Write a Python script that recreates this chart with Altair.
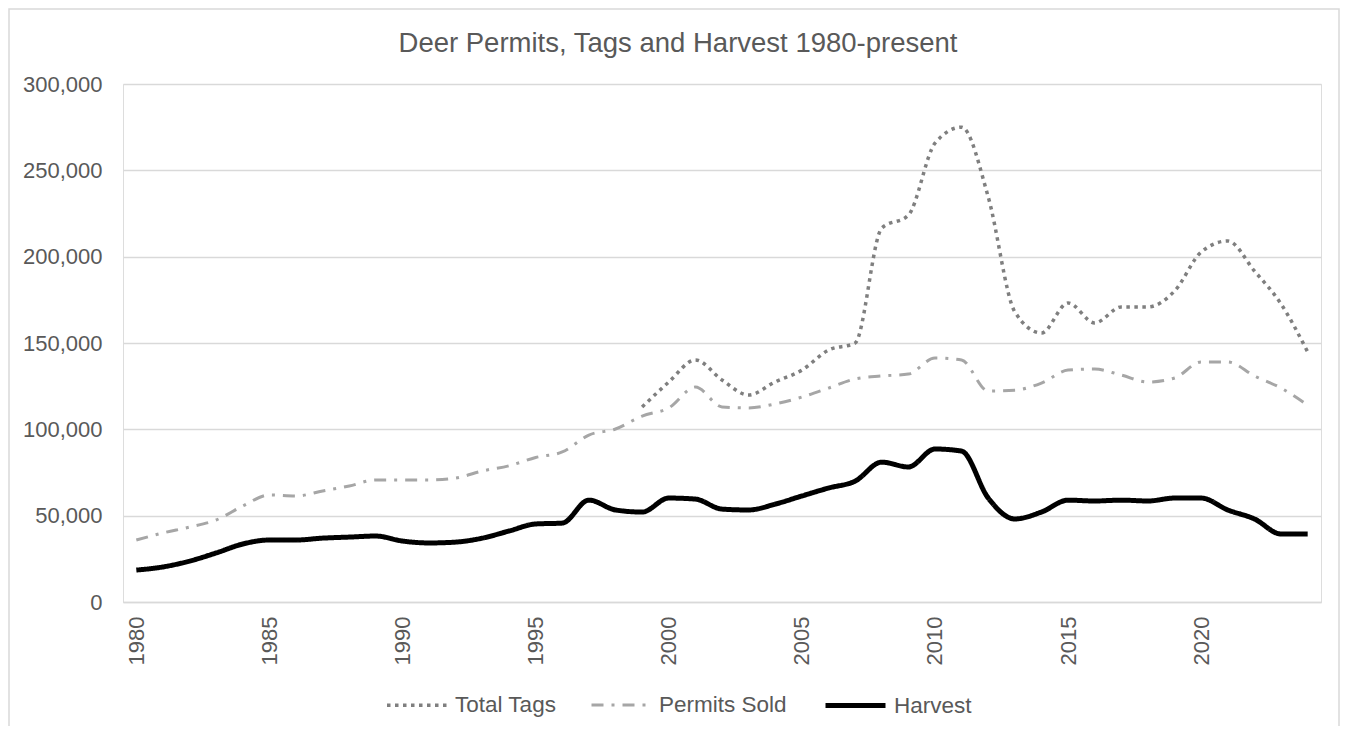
import altair as alt
import pandas as pd

years = list(range(1980, 2025))
harvest = [18500, 20300, 23700, 28400, 33600, 35900, 35900, 37000, 37600, 38200,
           35300, 34200, 34700, 37000, 41100, 45200, 45700, 59000, 53300, 52100,
           60200, 59600, 53800, 53300, 56700, 61400, 66000, 70000, 81000, 78200,
           88600, 87400, 60200, 48100, 52100, 59000, 58500, 59000, 58500, 60200,
           60200, 53300, 48100, 39400, 39400]
permits = [35900, 40000, 43400, 47500, 55600, 62000, 61400, 64300, 67200, 70700,
           70700, 70700, 71800, 75900, 78900, 83700, 86900, 96700, 100200, 107700,
           112400, 124500, 113000, 112400, 114700, 118700, 123900, 129200, 130900, 132000,
           141300, 140100, 122200, 122700, 126800, 134300, 134900, 131400, 127400, 129700,
           139000, 139000, 130900, 123900, 114000]
tag_years = list(range(1999, 2025))
tags = [112900, 127400, 140200, 128600, 119900, 127500, 134300, 145900, 150000, 216500,
        224000, 265700, 275000, 234600, 168000, 155800, 173200, 161600, 170900, 170900,
        180100, 202700, 209100, 191700, 172600, 144800]

series_names = ["Total Tags", "Permits Sold", "Harvest"]
x_ticks = [1980, 1985, 1990, 1995, 2000, 2005, 2010, 2015, 2020]
y_ticks = [0, 50000, 100000, 150000, 200000, 250000, 300000]
title_text = ["Deer Permits, Tags and Harvest 1980-present"]

rows = []
for y, v in zip(tag_years, tags):
    rows.append({"year": y, "series": "Total Tags", "value": v})
for y, v in zip(years, permits):
    rows.append({"year": y, "series": "Permits Sold", "value": v})
for y, v in zip(years, harvest):
    rows.append({"year": y, "series": "Harvest", "value": v})
df = pd.DataFrame(rows)

FONT = "Liberation Sans"
TXT = "#595959"
W, H = 1198, 518

legend_kw = dict(
    title=None, orient="none", legendX=262, legendY=589, direction="horizontal",
    symbolType="stroke", symbolSize=3600, labelFont=FONT, labelFontSize=22.5,
    labelColor=TXT, labelOffset=6, columnPadding=28,
)

lines = alt.Chart(df).mark_line(interpolate="monotone", strokeCap="butt").encode(
    x=alt.X("year:Q", scale=alt.Scale(domain=[1979.5, 2024.5], nice=False, zero=False),
            axis=alt.Axis(values=x_ticks, labelAngle=-90, format="d", title=None,
                          ticks=False, grid=False, domainColor="#d9d9d9", domainWidth=1.5,
                          labelFont=FONT, labelFontSize=22, labelColor=TXT,
                          labelPadding=14)),
    y=alt.Y("value:Q", scale=alt.Scale(domain=[0, 300000], nice=False),
            axis=alt.Axis(values=y_ticks, format=",d", title=None, ticks=False,
                          domain=False, gridColor="#d9d9d9", gridWidth=1.5,
                          labelFont=FONT, labelFontSize=22, labelColor=TXT,
                          labelPadding=21)),
    color=alt.Color("series:N", scale=alt.Scale(domain=series_names,
                    range=["#7f7f7f", "#a6a6a6", "#000000"]),
                    legend=alt.Legend(**legend_kw)),
    strokeDash=alt.StrokeDash("series:N", scale=alt.Scale(domain=series_names,
                    range=[[3.5, 4.5], [12, 8, 3, 8], [1, 0]]),
                    legend=alt.Legend(**legend_kw)),
    strokeWidth=alt.StrokeWidth("series:N", scale=alt.Scale(type="ordinal", domain=series_names,
                    range=[3.5, 3, 5]),
                    legend=alt.Legend(**legend_kw)),
    order=alt.Order("year:Q"),
)

border_df = pd.DataFrame({"k": [0]})
border = alt.Chart(border_df).mark_rect(fill=None, stroke="#d9d9d9", strokeWidth=1.5).encode(
    x=alt.value(-114),
    x2=alt.value(W + 18),
    y=alt.value(-75),
    y2=alt.value(H + 140),
)

title = alt.Chart(pd.DataFrame({"t": title_text})).mark_text(
    font=FONT, fontSize=27.5, color=TXT, align="center", baseline="alphabetic"
).encode(text="t:N", x=alt.value(555), y=alt.value(-32))

chart = alt.layer(border, lines, title).properties(
    width=W, height=H,
    padding={"left": 115, "top": 76, "right": 19, "bottom": 124},
    autosize=alt.AutoSizeParams(type="none"),
).configure_view(stroke=None).configure(background="white")

chart.save("out.html", embed_options={"renderer": "svg", "actions": False})
